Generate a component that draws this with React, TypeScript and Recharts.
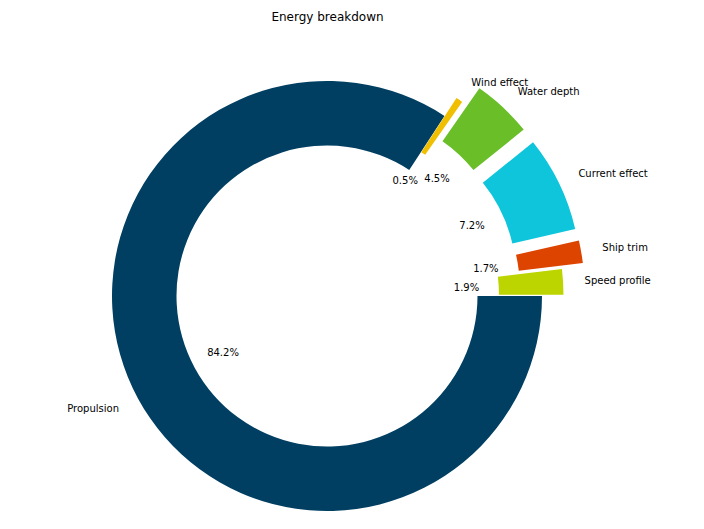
import { Cell, Pie, PieChart } from 'recharts';

const categories = ['Propulsion', 'Wind effect', 'Water depth', 'Current effect', 'Ship trim', 'Speed profile'];
const shares = [84.2, 0.5, 4.5, 7.2, 1.7, 1.9];
const explode = [0, 0.1, 0.2, 0.2, 0.2, 0.1];
const colors = ['#003f62', '#f0bf00', '#6abe28', '#0ec5dc', '#dc4400', '#bcd500'];

const WIDTH = 704;
const HEIGHT = 529;
const CX = 327;
const CY = 296;
const OUTER = 215;
const INNER = OUTER * 0.7;
const RAD = Math.PI / 180;
const FONT = '"DejaVu Sans", sans-serif';

const data = categories.map((name, i) => ({ name, value: shares[i] }));
const total = shares.reduce((a, b) => a + b, 0);

// mid angle of each slice (clockwise from 3 o'clock, recharts convention)
const midAngles = shares.map((v, i) => {
  const before = shares.slice(0, i).reduce((a, b) => a + b, 0);
  return -((before + v / 2) / total) * 360;
});

// unit vector in screen coords for a recharts angle
const dir = (angle: number) => ({ x: Math.cos(-angle * RAD), y: Math.sin(-angle * RAD) });

const shift = (i: number) => {
  const d = dir(midAngles[i]);
  const r = explode[i] * OUTER;
  return { x: d.x * r, y: d.y * r };
};

const renderLabel = (props: any) => {
  const i = props.index;
  const d = dir(midAngles[i]);
  const s = shift(i);
  const nx = CX + s.x + d.x * OUTER * 1.1;
  const ny = CY + s.y + d.y * OUTER * 1.1;
  const px = CX + s.x + d.x * OUTER * 0.55;
  const py = CY + s.y + d.y * OUTER * 0.55;
  return (
    <g key={`lbl-${i}`}>
      <text
        x={nx}
        y={ny}
        textAnchor={d.x > 0 ? 'start' : 'end'}
        dominantBaseline="central"
        fontSize={10}
        fontFamily={FONT}
        fill="#000"
      >
        {categories[i]}
      </text>
      <text
        x={px}
        y={py}
        textAnchor="middle"
        dominantBaseline="central"
        fontSize={10}
        fontFamily={FONT}
        fill="#000"
      >
        {`${shares[i].toFixed(1)}%`}
      </text>
    </g>
  );
};

export default function App() {
  return (
    <div style={{ position: 'absolute', left: 0, top: 0, width: WIDTH, height: HEIGHT, background: '#fff' }}>
      <PieChart width={WIDTH} height={HEIGHT} margin={{ top: 0, right: 0, bottom: 0, left: 0 }}>
        <text x={327.5} y={17} textAnchor="middle" dominantBaseline="central" fontSize={12} fontFamily={FONT} fill="#000">
          Energy breakdown
        </text>
        <Pie
          data={data}
          dataKey="value"
          nameKey="name"
          cx={CX}
          cy={CY}
          innerRadius={INNER}
          outerRadius={OUTER}
          startAngle={0}
          endAngle={-360}
          stroke="none"
          label={renderLabel}
          labelLine={false}
          isAnimationActive={false}
        >
          {data.map((d, i) => {
            const s = shift(i);
            return <Cell key={d.name} fill={colors[i]} transform={`translate(${s.x},${s.y})`} />;
          })}
        </Pie>
      </PieChart>
    </div>
  );
}
